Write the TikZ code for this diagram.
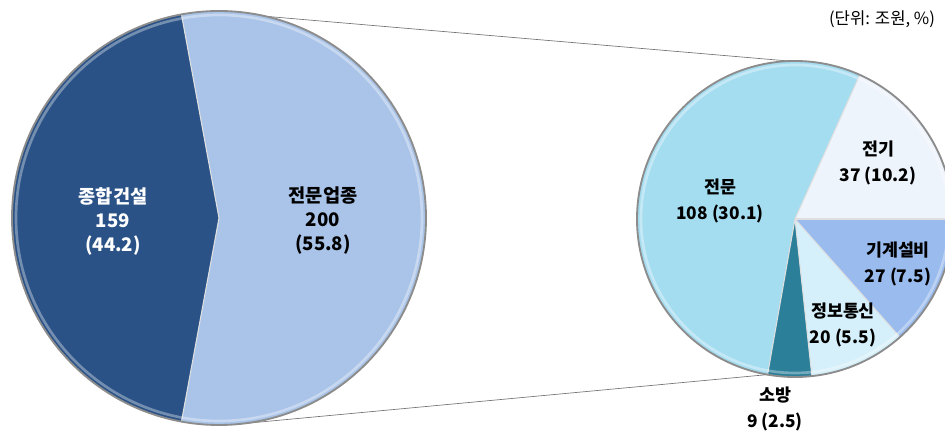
\documentclass[tikz,border=0pt]{standalone}
\usepackage{fontspec}
\newfontfamily\kor{Noto Sans CJK KR}
\usetikzlibrary{calc,positioning}

\definecolor{gendark}{RGB}{42,82,135}
\definecolor{speclight}{RGB}{169,196,232}
\definecolor{jmcyan}{RGB}{165,221,240}
\definecolor{jgpale}{RGB}{238,244,252}
\definecolor{gsblue}{RGB}{153,187,238}
\definecolor{jtpale}{RGB}{213,240,250}
\definecolor{sbteal}{RGB}{43,127,153}

\tikzset{
	slice/.style={draw=white!75!gray, line width=0.8pt},
	rim/.style={draw=black!45, line width=1.4pt},
	shine/.style={draw=white, line width=2pt, opacity=0.35},
	zoomline/.style={draw=black!55, line width=0.5pt},
	biglabel/.style={font=\kor\bfseries\fontsize{14}{18}\selectfont, align=center},
	smalllabel/.style={font=\kor\bfseries\fontsize{13}{19.5}\selectfont, align=center}
}

\begin{document}
\begin{tikzpicture}[x=0.75pt,y=0.75pt]
			\useasboundingbox (0,0) rectangle (945,435);

			\coordinate (lc) at (219,217);
			\coordinate (rc) at (795,216);

			% zoom lines between the two pies
			\coordinate (ltop) at ($(lc)+(77:207)$);
			\coordinate (lbot) at ($(lc)+(-83.5:207)$);
			\coordinate (rtop) at ($(rc)+(92:158)$);
			\coordinate (rbot) at ($(rc)+(260:158)$);
			\draw[zoomline] (ltop) -- (rtop);
			\draw[zoomline] (lbot) -- (rbot);

			% left pie
			\fill[gendark] (lc) -- ++(100.45:207) arc(100.45:259.55:207) -- cycle;
			\fill[speclight] (lc) -- ++(-100.45:207) arc(-100.45:100.45:207) -- cycle;
				\draw[slice] (lc) -- ++(100.45:207);
				\draw[slice] (lc) -- ++(259.55:207);
			\draw[shine] (lc) circle(203);
			\draw[rim] (lc) circle(207);

			% right pie
			\fill[jgpale] (rc) -- ++(0:158) arc(0:65.81:158) -- cycle;
			\fill[jmcyan] (rc) -- ++(65.81:158) arc(65.81:260:158) -- cycle;
			\fill[sbteal] (rc) -- ++(260:158) arc(260:276.13:158) -- cycle;
			\fill[jtpale] (rc) -- ++(276.13:158) arc(276.13:311.61:158) -- cycle;
			\fill[gsblue] (rc) -- ++(311.61:158) arc(311.61:360:158) -- cycle;
				\foreach \a in {0,65.81,260,276.13,311.61}
					\draw[slice] (rc) -- ++(\a:158);
			\draw[shine] (rc) circle(154);
			\draw[rim] (rc) circle(158);

			% labels
			\node[biglabel, text=white] (gen) at(113,214){종합건설\\159\\(44.2)};
			\node[biglabel] (spec) at(323,214){전문업종\\200\\(55.8)};

			\node[smalllabel] (jeonmun) at(720,234){전문\\108 (30.1)};
			\node[smalllabel] (jeongi) at(878,272){전기\\37 (10.2)};
			\node[smalllabel] (gigye) at(898,171){기계설비\\27 (7.5)};
			\node[smalllabel] (jeongbo) at(843,110){정보통신\\20 (5.5)};
			\node[smalllabel] (sobang) at(775,26){소방\\9 (2.5)};

			\node[font=\kor\fontsize{12.5}{15}\selectfont] (unit) at(882,416){(단위: 조원, \%)};
		\end{tikzpicture}
\end{document}
